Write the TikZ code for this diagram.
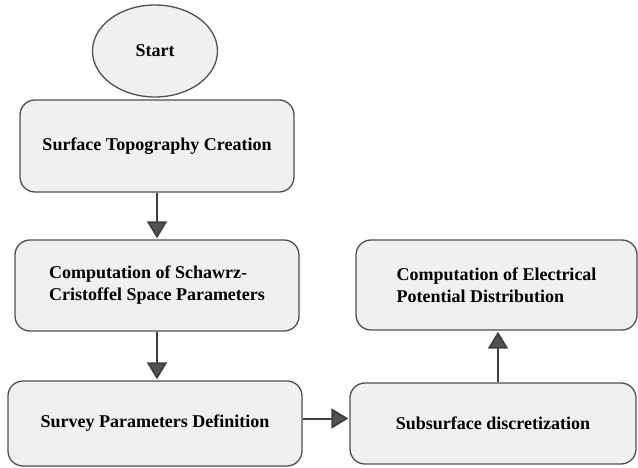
\documentclass[tikz,border=0pt]{standalone}
\usepackage{fontspec}
\setmainfont{Liberation Serif}
\usetikzlibrary{arrows.meta,shapes.geometric}
\definecolor{boxfill}{HTML}{F0F0F0}
\definecolor{boxline}{HTML}{505050}
\definecolor{arrcol}{HTML}{404040}
\tikzset{
  procbox/.style={draw=boxline, fill=boxfill, line width=1.3pt, rounded corners=15pt,
    font=\fontsize{18}{22}\selectfont\bfseries, align=left, inner sep=0pt},
  startnode/.style={ellipse, draw=boxline, fill=boxfill, line width=1.3pt,
    font=\fontsize{18}{22}\selectfont\bfseries, inner sep=0pt},
  flowarrow/.style={draw=arrcol, line width=2pt,
    -{Triangle[width=20pt,length=17pt,fill=arrcol!90!white]}, shorten >=1pt}
}
\begin{document}
\begin{tikzpicture}[x=1pt,y=-1pt]
\useasboundingbox (0,0) rectangle (638,468);
\node[startnode, minimum width=125pt, minimum height=92pt] (start) at (155,51) {Start};
\node[procbox, minimum width=274pt, minimum height=92pt] (surf) at (157,146) {Surface Topography Creation};
\node[procbox, minimum width=284pt, minimum height=91pt] (sc) at (157,285.5) {Computation of Schawrz-\\Cristoffel Space Parameters};
\node[procbox, minimum width=294pt, minimum height=85pt] (survey) at (155,423.5) {Survey Parameters Definition};
\node[procbox, minimum width=286pt, minimum height=81pt] (subs) at (493,423.5) {Subsurface discretization};
\node[procbox, minimum width=281pt, minimum height=90pt] (epd) at (496.5,285) {Computation of Electrical\\Potential Distribution};
\draw[flowarrow] (surf.south) -- (sc.north);
\draw[flowarrow] (sc.south) -- (sc.south |- survey.north);
\draw[flowarrow] ([yshift=5pt]survey.east) -- ([yshift=5pt]survey.east -| subs.west);
\draw[flowarrow] ([xshift=5pt]subs.north) -- ([xshift=5pt]subs.north |- epd.south);
\end{tikzpicture}
\end{document}
